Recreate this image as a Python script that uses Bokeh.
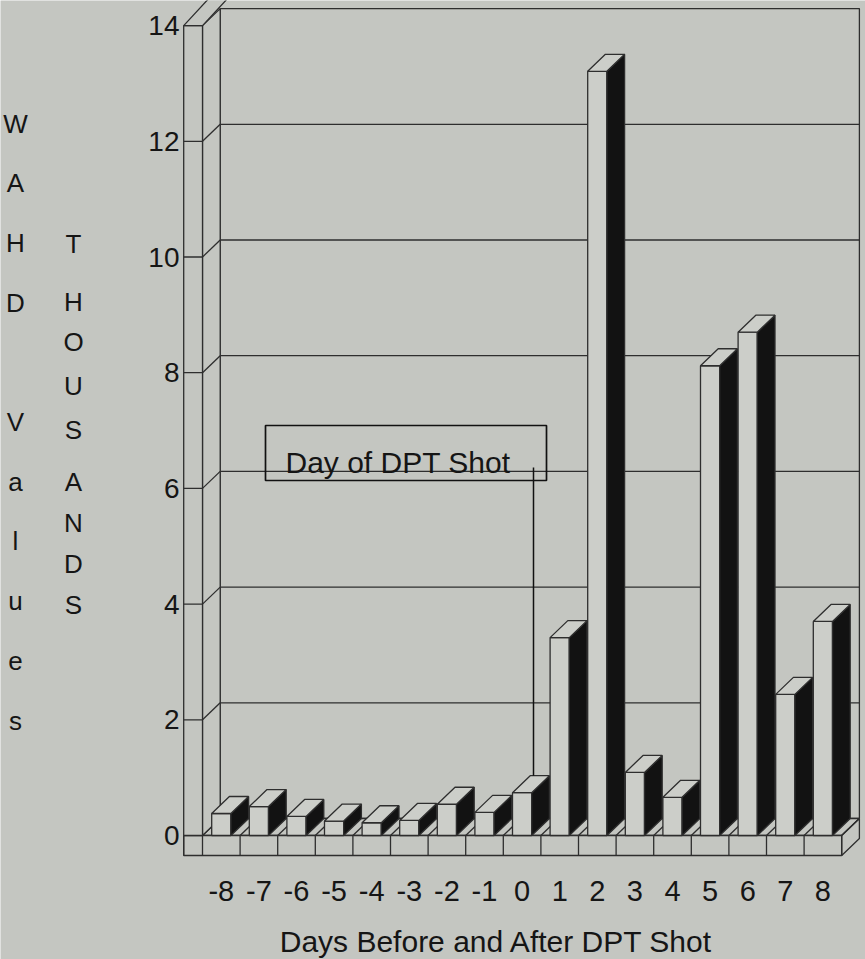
from bokeh.plotting import figure
from bokeh.models import Range1d
from bokeh.embed import file_html
from bokeh.resources import INLINE
from bokeh.core.properties import value

# ---------------- data ----------------
days = [-8, -7, -6, -5, -4, -3, -2, -1, 0, 1, 2, 3, 4, 5, 6, 7, 8]
day_labels = ["-8", "-7", "-6", "-5", "-4", "-3", "-2", "-1", "0",
              "1", "2", "3", "4", "5", "6", "7", "8"]
wahd_thousands = [0.38, 0.50, 0.33, 0.25, 0.22, 0.26, 0.54, 0.40, 0.74,
                  3.42, 13.21, 1.09, 0.66, 8.12, 8.70, 2.44, 3.70]
y_ticks = [0, 2, 4, 6, 8, 10, 12, 14]
y_tick_labels = ["0", "2", "4", "6", "8", "10", "12", "14"]
x_title = "Days Before and After DPT Shot"
y_title_outer = "WAHD Values"
y_title_inner = "THOUSANDS"
note_text = "Day of DPT Shot"
note_day = 0

# ---------------- layout ----------------
W, H = 865, 959
MX, MY = 0, 8                    # offset of the plot frame on the page
X0_PX, X_UNIT = 521.6, 37.6      # page x of day 0, px per day
Y0_PX, Y_UNIT = 843.0, 57.85     # page y of value 0, px per thousand
OUTER_Y = [131 + 59.7 * i for i in range(len(y_title_outer))]
INNER_Y = [251, 309, 349, 393, 437, 489, 530, 571, 612]


def dx(px):
    return (px - X0_PX) / X_UNIT


def vy(py):
    return (Y0_PX - py) / Y_UNIT


DX, DY = 17.7 / X_UNIT, 17.0 / Y_UNIT      # depth of the back wall plane
DX2, DY2 = 25.0 / X_UNIT, 27.0 / Y_UNIT    # outer edge of the wall top
FT = 20.0 / Y_UNIT                         # floor thickness
HW = 9.6 / X_UNIT                          # half width of a bar front

BG = "#c4c6c1"
FACE = "#cccec9"
DARK = "#121212"
LINE = "#2e2e2e"
TXT = "#151515"
FONT = value("Liberation Sans")

p = figure(width=W, height=H,
           x_range=Range1d(dx(MX), dx(MX + W)),
           y_range=Range1d(vy(MY + H), vy(MY)),
           output_backend="svg", toolbar_location=None,
           x_axis_location=None, y_axis_location=None,
           min_border=0, outline_line_color=None,
           background_fill_color=BG, border_fill_color=BG)
p.grid.visible = False

left_edge = days[0] - 1.0
wall_in = days[0] - 0.5
right_edge = days[-1] + 0.5
top = y_ticks[-1]
lw = 1.3

# back wall
p.quad(left=[wall_in + DX], right=[right_edge + DX], bottom=[DY], top=[top + DY],
       fill_color=BG, line_color=LINE, line_width=lw)
p.segment(x0=[left_edge + DX2], y0=[top + DY2], x1=[right_edge + DX2 + 1], y1=[top + DY2],
          line_color=LINE, line_width=lw)
mid = y_ticks[1:-1]
p.segment(x0=[wall_in + DX] * len(mid), y0=[v + DY for v in mid],
          x1=[right_edge + DX] * len(mid), y1=[v + DY for v in mid],
          line_color=LINE, line_width=lw)

# floor
p.patch(x=[left_edge, right_edge, right_edge + DX, left_edge + DX],
        y=[0, 0, DY, DY], fill_color=BG, line_color=LINE, line_width=lw)
p.quad(left=[left_edge], right=[right_edge], bottom=[-FT], top=[0],
       fill_color=BG, line_color=LINE, line_width=lw)
p.patch(x=[right_edge, right_edge + DX, right_edge + DX, right_edge],
        y=[-FT, -FT + DY, DY, 0], fill_color=BG, line_color=LINE, line_width=lw)
bounds = [left_edge] + [d - 0.5 for d in days] + [right_edge]
p.segment(x0=bounds, y0=[-FT] * len(bounds), x1=bounds, y1=[0] * len(bounds),
          line_color=LINE, line_width=lw)
fb = [d - 0.5 for d in days] + [right_edge]
p.segment(x0=fb, y0=[0] * len(fb), x1=[b + DX for b in fb], y1=[DY] * len(fb),
          line_color=LINE, line_width=lw)

# left wall slab
p.patch(x=[wall_in, wall_in + DX, wall_in + DX, wall_in],
        y=[0, DY, top + DY, top], fill_color=BG, line_color=LINE, line_width=lw)
p.quad(left=[left_edge], right=[wall_in], bottom=[0], top=[top],
       fill_color=BG, line_color=LINE, line_width=lw)
p.patch(x=[left_edge, wall_in, wall_in + DX2, left_edge + DX2],
        y=[top, top, top + DY2, top + DY2], fill_color=BG, line_color=LINE, line_width=lw)
p.segment(x0=[left_edge] * len(mid), y0=mid, x1=[wall_in] * len(mid), y1=mid,
          line_color=LINE, line_width=lw)
p.segment(x0=[wall_in] * len(mid), y0=mid, x1=[wall_in + DX] * len(mid),
          y1=[v + DY for v in mid], line_color=LINE, line_width=lw)

# bars
p.quad(left=[d - HW for d in days], right=[d + HW for d in days],
       bottom=[0] * len(days), top=wahd_thousands,
       fill_color=FACE, line_color=LINE, line_width=lw)
p.patches(xs=[[d + HW, d + HW + DX, d + HW + DX, d + HW] for d in days],
          ys=[[0, DY, v + DY, v] for v in wahd_thousands],
          fill_color=DARK, line_color=LINE, line_width=lw)
p.patches(xs=[[d - HW, d + HW, d + HW + DX, d - HW + DX] for d in days],
          ys=[[v, v, v + DY, v + DY] for v in wahd_thousands],
          fill_color=FACE, line_color=LINE, line_width=lw)

# annotation
note_val = wahd_thousands[days.index(note_day)]
note_x = note_day + (533 - X0_PX) / X_UNIT
p.segment(x0=[note_x], y0=[vy(475)], x1=[note_x], y1=[note_val + DY],
          line_color="#111111", line_width=1.5)
p.quad(left=[dx(265)], right=[dx(546)], bottom=[vy(488)], top=[vy(433)],
       fill_color=None, line_color="#111111", line_width=1.7)
p.text(x=[dx(285)], y=[vy(470)], text=[note_text], text_font=FONT,
       text_font_size="30px", text_color=TXT, text_align="left",
       text_baseline="alphabetic")

# tick labels
p.text(x=[dx(179)] * len(y_ticks), y=y_ticks, text=y_tick_labels, text_font=FONT,
       text_font_size="28px", text_color=TXT, text_align="right",
       text_baseline="alphabetic")
p.text(x=days, y=[vy(898)] * len(days), text=day_labels, text_font=FONT,
       text_font_size="29px", text_color=TXT, text_align="center",
       text_baseline="alphabetic")
p.text(x=[dx(496)], y=[vy(949)], text=[x_title], text_font=FONT,
       text_font_size="30px", text_color=TXT, text_align="center",
       text_baseline="alphabetic")

# stacked vertical titles
outer = [(c, OUTER_Y[i]) for i, c in enumerate(y_title_outer) if c != " "]
p.text(x=[dx(15)] * len(outer), y=[vy(yy) for _, yy in outer],
       text=[c for c, _ in outer], text_font=FONT, text_font_size="26px",
       text_color=TXT, text_align="center", text_baseline="middle")
inner = list(y_title_inner)
p.text(x=[dx(73)] * len(inner), y=[vy(yy) for yy in INNER_Y],
       text=inner, text_font=FONT, text_font_size="26px",
       text_color=TXT, text_align="center", text_baseline="middle")

open("out.html", "w").write(file_html(p, INLINE))
